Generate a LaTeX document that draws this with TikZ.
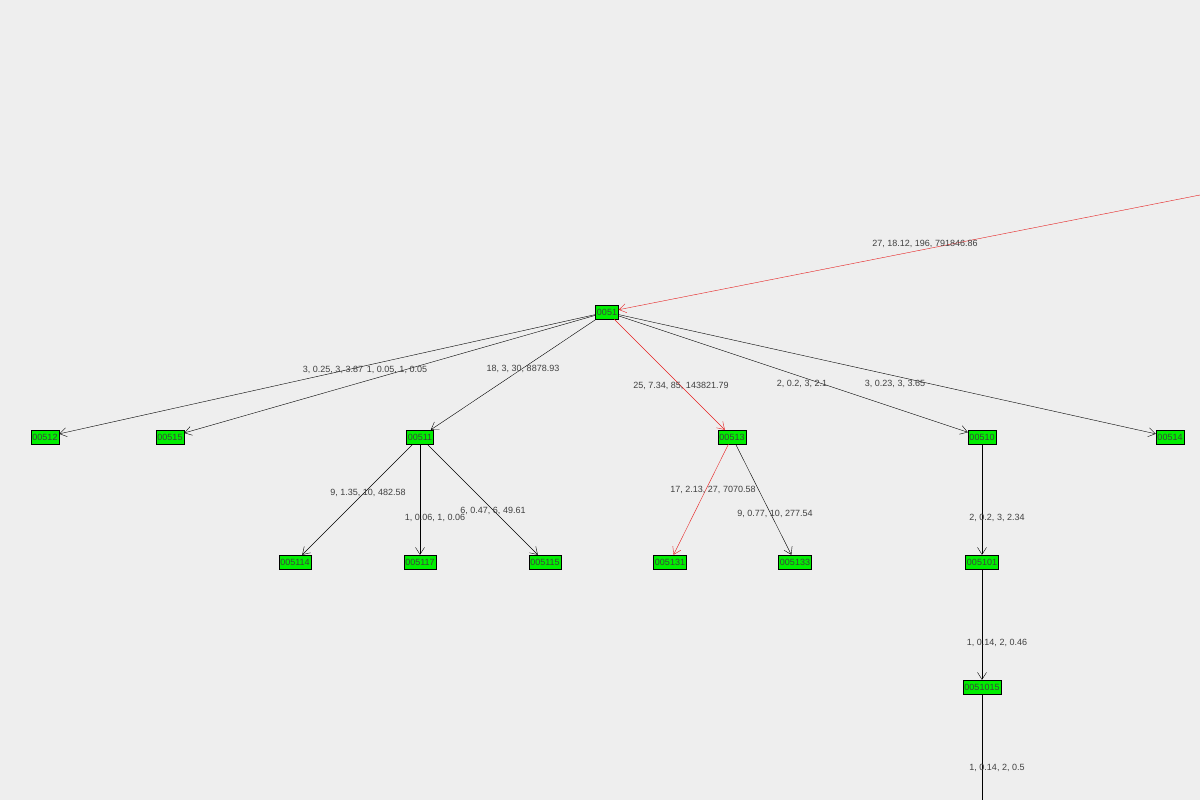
\documentclass[tikz,border=0pt]{standalone}
\usepackage{fontspec}
\setmainfont{Liberation Sans}
\usetikzlibrary{arrows.meta}
\definecolor{bg}{RGB}{238,238,238}
\definecolor{ng}{RGB}{0,238,0}
\definecolor{ered}{RGB}{230,30,30}
\begin{document}
\begin{tikzpicture}[x=1pt,y=-1pt,
  nd/.style={draw=black,fill=ng,inner sep=1.5pt,minimum height=14pt,font=\fontsize{9}{10}\selectfont,text=black!75},
  ed/.style={draw=black,-{Straight Barb[length=7pt,width=9pt]}},
  red/.style={draw=ered,-{Straight Barb[length=7pt,width=9pt]}},
  lb/.style={font=\fontsize{9}{10}\selectfont,text=black!75}]
\fill[bg] (0,0) rectangle (1200,800);
\useasboundingbox (0,0) rectangle (1200,800);
\node[nd] (n0051) at (607,312) {0051};
\node[nd] (n00512) at (45,437) {00512};
\node[nd] (n00515) at (170,437) {00515};
\node[nd] (n00511) at (420,437) {00511};
\node[nd] (n00513) at (732,437) {00513};
\node[nd] (n00510) at (982,437) {00510};
\node[nd] (n00514) at (1170,437) {00514};
\node[nd] (n005114) at (295,562) {005114};
\node[nd] (n005117) at (420,562) {005117};
\node[nd] (n005115) at (545,562) {005115};
\node[nd] (n005131) at (670,562) {005131};
\node[nd] (n005133) at (795,562) {005133};
\node[nd] (n005101) at (982,562) {005101};
\node[nd] (n0051015) at (982,687) {0051015};
\coordinate (src) at (1200,195);
\coordinate (bot) at (982,800);
\draw[red] (src) -- (n0051);
\draw[ed] (n0051) -- (n00512);
\draw[ed] (n0051) -- (n00515);
\draw[ed] (n0051) -- (n00511);
\draw[red] (n0051) -- (n00513);
\draw[ed] (n0051) -- (n00510);
\draw[ed] (n0051) -- (n00514);
\draw[ed] (n00511) -- (n005114);
\draw[ed] (n00511) -- (n005117);
\draw[ed] (n00511) -- (n005115);
\draw[red] (n00513) -- (n005131);
\draw[ed] (n00513) -- (n005133);
\draw[ed] (n00510) -- (n005101);
\draw[ed] (n005101) -- (n0051015);
\draw (n0051015) -- (bot);
\node[lb] at (925,244) {27, 18.12, 196, 791846.86};
\node[lb] at (333,370) {3, 0.25, 3, 3.87};
\node[lb] at (397,370) {1, 0.05, 1, 0.05};
\node[lb] at (523,369) {18, 3, 30, 8878.93};
\node[lb] at (681,386) {25, 7.34, 85, 143821.79};
\node[lb] at (802,384) {2, 0.2, 3, 2.1};
\node[lb] at (895,384) {3, 0.23, 3, 3.65};
\node[lb] at (368,493) {9, 1.35, 10, 482.58};
\node[lb] at (435,518) {1, 0.06, 1, 0.06};
\node[lb] at (493,511) {6, 0.47, 6, 49.61};
\node[lb] at (713,490) {17, 2.13, 27, 7070.58};
\node[lb] at (775,514) {9, 0.77, 10, 277.54};
\node[lb] at (997,518) {2, 0.2, 3, 2.34};
\node[lb] at (997,643) {1, 0.14, 2, 0.46};
\node[lb] at (997,768) {1, 0.14, 2, 0.5};
\end{tikzpicture}
\end{document}
